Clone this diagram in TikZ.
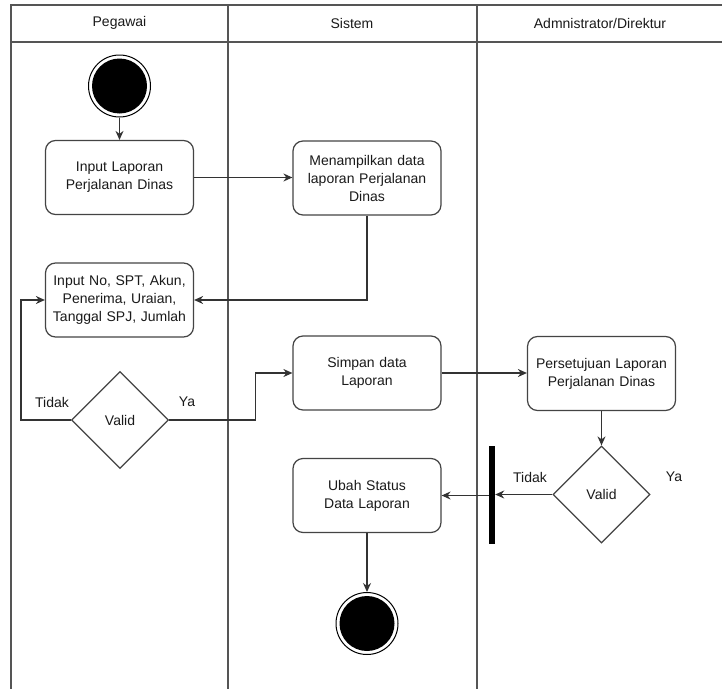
\documentclass[tikz,border=0pt]{standalone}
\usepackage{fontspec}
\setmainfont{Liberation Sans}
\usetikzlibrary{shapes.geometric,arrows.meta}
\definecolor{lanegray}{HTML}{555555}
\definecolor{boxgray}{HTML}{444444}
\definecolor{linegray}{HTML}{333333}
\definecolor{txt}{HTML}{1A1A1A}
\begin{document}
\begin{tikzpicture}[x=1pt,y=-1pt,
  lane/.style={draw=lanegray,line width=1.4pt},
  hdr/.style={font=\fontsize{14}{17}\selectfont,text=txt},
  act/.style={draw=boxgray,line width=1.2pt,rounded corners=10pt,minimum width=148pt,minimum height=74pt,align=center,inner sep=2pt,text width=142pt,font=\fontsize{14}{18}\selectfont,text=txt},
  dec/.style={diamond,draw=boxgray,line width=1.2pt,minimum width=97pt,minimum height=97pt,inner sep=0pt,font=\fontsize{14}{17}\selectfont,text=txt},
  flow/.style={draw=linegray,line width=1.2pt,-{Stealth[length=9pt,width=8pt]}},
  lbl/.style={font=\fontsize{14}{17}\selectfont,text=txt},
  startnode/.style={circle,draw=black,line width=1pt,minimum size=62pt,inner sep=0pt}]
\useasboundingbox (0,0) rectangle (722,688);
\fill[white] (0,0) rectangle (722,688);
% swimlanes
\begin{scope}
\clip (0,0) rectangle (722,688);
\draw[lane] (11,700) -- (11,5) -- (740,5);
\draw[lane] (11,42) -- (740,42);
\draw[lane] (228,5) -- (228,700);
\draw[lane] (477,5) -- (477,700);
\end{scope}
\node[hdr] (h1) at (119.5,23) {Pegawai};
\node[hdr] (h2) at (352,23) {Sistem};
\node[hdr] (h3) at (600,23) {Admnistrator/Direktur};
% nodes
\node[startnode] (start) at (119.5,86) {};
\fill[black] (start.center) circle (27.5pt);
\node[act] (in1) at (119.5,177.5) {Input Laporan\\Perjalanan Dinas};
\node[act] (men) at (367,178) {Menampilkan data\\laporan Perjalanan\\Dinas};
\node[act] (in2) at (119.5,300) {Input No, SPT, Akun,\\Penerima, Uraian,\\Tanggal SPJ, Jumlah};
\node[dec] (v1) at (120,420) {Valid};
\node[act] (sim) at (367,373) {Simpan data\\Laporan};
\node[act] (per) at (601.5,373.5) {Persetujuan Laporan\\Perjalanan Dinas};
\node[dec] (v2) at (601.5,494.5) {Valid};
\node[fill=black,minimum width=6pt,minimum height=98pt,inner sep=0pt] (bar) at (492,495) {};
\node[act] (ubah) at (367,495.5) {Ubah Status\\Data Laporan};
\node[startnode] (end) at (367,623.5) {};
\fill[black] (end.center) circle (27.5pt);
% labels
\node[lbl] (t1) at (52,402) {Tidak};
\node[lbl] (y1) at (187,402) {Ya};
\node[lbl] (t2) at (530,477) {Tidak};
\node[lbl] (y2) at (674,477) {Ya};
% connectors
\draw[flow] (start) -- (in1);
\draw[flow] (in1.east) -- (in1.east -| men.west);
\draw[flow] (men.south) |- (in2.east);
\draw[flow] (v1.west) -- ++(-50,0) |- (in2.west);
\draw[flow] (v1.east) -- ++(86,0) |- (sim.west);
\draw[flow] (sim.east) -- (sim.east -| per.west);
\draw[flow] (per) -- (v2);
\draw[flow] (v2.west) -- (v2.west -| bar.east);
\draw[flow] (bar.west |- ubah.east) -- (ubah.east);
\draw[flow] (ubah) -- (end);
\end{tikzpicture}
\end{document}
